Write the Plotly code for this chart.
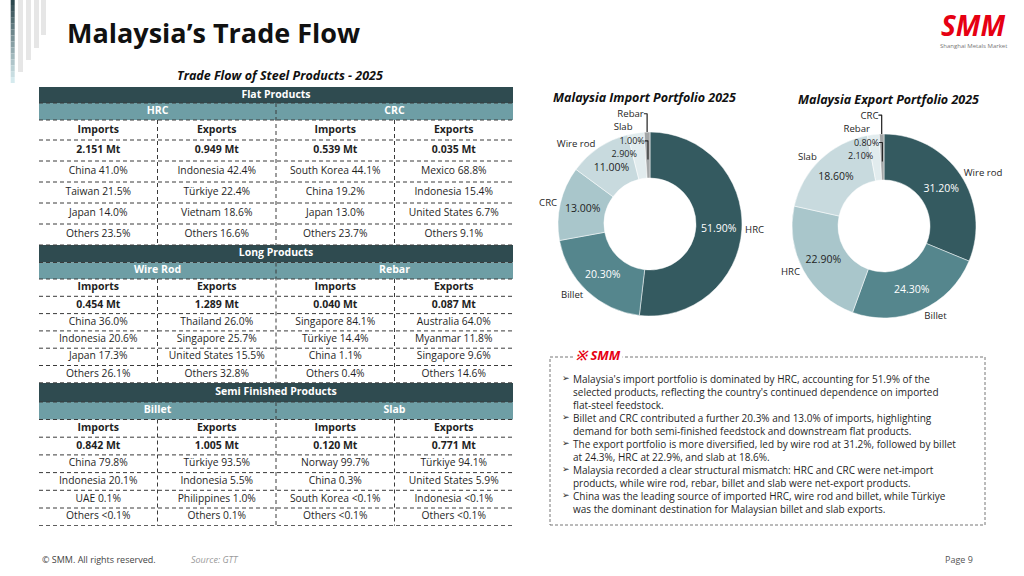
import plotly.graph_objects as go

# ---------------- data ----------------
page_title = "Malaysia’s Trade Flow"
table_title = "Trade Flow of Steel Products - 2025"
section_names = ["Flat Products", "Long Products", "Semi Finished Products"]
product_pairs = [["HRC", "CRC"], ["Wire Rod", "Rebar"], ["Billet", "Slab"]]
flow_headers = ["Imports", "Exports", "Imports", "Exports"]

flat_volumes = ["2.151 Mt", "0.949 Mt", "0.539 Mt", "0.035 Mt"]
flat_partners = [
    ["China 41.0%", "Indonesia 42.4%", "South Korea 44.1%", "Mexico 68.8%"],
    ["Taiwan 21.5%", "Türkiye 22.4%", "China 19.2%", "Indonesia 15.4%"],
    ["Japan 14.0%", "Vietnam 18.6%", "Japan 13.0%", "United States 6.7%"],
    ["Others 23.5%", "Others 16.6%", "Others 23.7%", "Others 9.1%"],
]
long_volumes = ["0.454 Mt", "1.289 Mt", "0.040 Mt", "0.087 Mt"]
long_partners = [
    ["China 36.0%", "Thailand 26.0%", "Singapore 84.1%", "Australia 64.0%"],
    ["Indonesia 20.6%", "Singapore 25.7%", "Türkiye 14.4%", "Myanmar 11.8%"],
    ["Japan 17.3%", "United States 15.5%", "China 1.1%", "Singapore 9.6%"],
    ["Others 26.1%", "Others 32.8%", "Others 0.4%", "Others 14.6%"],
]
semi_volumes = ["0.842 Mt", "1.005 Mt", "0.120 Mt", "0.771 Mt"]
semi_partners = [
    ["China 79.8%", "Türkiye 93.5%", "Norway 99.7%", "Türkiye 94.1%"],
    ["Indonesia 20.1%", "Indonesia 5.5%", "China 0.3%", "United States 5.9%"],
    ["UAE 0.1%", "Philippines 1.0%", "South Korea <0.1%", "Indonesia <0.1%"],
    ["Others <0.1%", "Others 0.1%", "Others <0.1%", "Others <0.1%"],
]

import_title = "Malaysia Import Portfolio 2025"
import_labels = ["HRC", "Billet", "CRC", "Wire rod", "Slab", "Rebar"]
import_shares = [51.9, 20.3, 13.0, 11.0, 2.9, 1.0]
export_title = "Malaysia Export Portfolio 2025"
export_labels = ["Wire rod", "Billet", "HRC", "Slab", "Rebar", "CRC"]
export_shares = [31.2, 24.3, 22.9, 18.6, 2.1, 0.8]

commentary = [
    "Malaysia's import portfolio is dominated by HRC, accounting for 51.9% of the<br>"
    "selected products, reflecting the country's continued dependence on imported<br>"
    "flat-steel feedstock.",
    "Billet and CRC contributed a further 20.3% and 13.0% of imports, highlighting<br>"
    "demand for both semi-finished feedstock and downstream flat products.",
    "The export portfolio is more diversified, led by wire rod at 31.2%, followed by billet<br>"
    "at 24.3%, HRC at 22.9%, and slab at 18.6%.",
    "Malaysia recorded a clear structural mismatch: HRC and CRC were net-import<br>"
    "products, while wire rod, rebar, billet and slab were net-export products.",
    "China was the leading source of imported HRC, wire rod and billet, while Türkiye<br>"
    "was the dominant destination for Malaysian billet and slab exports.",
]
footer_left = "© SMM. All rights reserved."
footer_source = "Source: GTT"
footer_page = "Page 9"

# ---------------- style / geometry ----------------
W, H = 1024, 576
FONT = "Open Sans"
DARK_BAND = "#2F4B50"
SUB_BAND = "#6E9EA5"
GRID = "#3a3a3a"
TXT = "#1f1f1f"
PALETTE = ["#345A60", "#55868D", "#A9C6CB", "#C8DADE", "#E2ECEE", "#A3A6A7"]
PCT_COLORS = ["white", "white", TXT, TXT, TXT, TXT]


def fx(x):
    return x / W


def fy(y):
    return 1 - y / H


section_tops = [87, 245, 383]
band_h = [16, 17.5, 19]
sub_h = [17, 16.5, 17.5]
row_h = [[20, 21, 21, 21, 21, 21], [17.3] * 6, [17.7] * 6]
TABLE_BOTTOM = 526

fig = go.Figure()
shapes = []
annots = []

# ---------- decorative bars (top-left) ----------
grad_steps = 14
for i in range(grad_steps):
    t = i / (grad_steps - 1)
    c0 = (0x2C, 0x48, 0x4E)
    c1 = (0xD5, 0xEA, 0xEE)
    col = "rgb(%d,%d,%d)" % tuple(int(c0[k] + (c1[k] - c0[k]) * t) for k in range(3))
    y0 = 83 * i / grad_steps
    y1 = 83 * (i + 1) / grad_steps
    shapes.append(dict(type="rect", xref="paper", yref="paper", x0=fx(10.7), x1=fx(14.7),
                       y0=fy(y1), y1=fy(y0), fillcolor=col, line=dict(width=0), layer="below"))
for (xa, xb, yb) in [(18, 23, 72), (26, 31, 60), (34, 39, 48), (41, 46, 35)]:
    shapes.append(dict(type="rect", xref="paper", yref="paper", x0=fx(xa), x1=fx(xb),
                       y0=fy(yb), y1=1, fillcolor="#E6E6E6", line=dict(width=0), layer="below"))

# ---------- table ----------
volumes = [flat_volumes, long_volumes, semi_volumes]
partners = [flat_partners, long_partners, semi_partners]
dash = dict(color=GRID, width=1, dash="4px,3px")

band_x, band_y, band_t = [], [], []
sub_x, sub_y, sub_t = [], [], []
hdr_x, hdr_y, hdr_t = [], [], []
cell_x, cell_y, cell_t = [], [], []

for s in range(3):
    top = section_tops[s]
    yb = top + band_h[s]
    ys = yb + sub_h[s]
    shapes.append(dict(type="rect", xref="x", yref="y", x0=0, x1=4, y0=top, y1=yb,
                       fillcolor=DARK_BAND, line=dict(width=0), layer="below"))
    shapes.append(dict(type="rect", xref="x", yref="y", x0=0, x1=4, y0=yb, y1=ys,
                       fillcolor=SUB_BAND, line=dict(width=0), layer="below"))
    band_x.append(2)
    band_y.append((top + yb) / 2)
    band_t.append(section_names[s])
    for k in range(2):
        sub_x.append(1 + 2 * k)
        sub_y.append((yb + ys) / 2)
        sub_t.append(product_pairs[s][k])
    shapes.append(dict(type="line", xref="x", yref="y", x0=0, x1=4, y0=yb, y1=yb, line=dash))
    shapes.append(dict(type="line", xref="x", yref="y", x0=0, x1=4, y0=ys, y1=ys, line=dash))
    rows = [flow_headers, volumes[s]] + partners[s]
    y = ys
    for r, row in enumerate(rows):
        h = row_h[s][r]
        yc = y + h / 2
        for c, txt in enumerate(row):
            if r < 2:
                hdr_x.append(c + 0.5); hdr_y.append(yc); hdr_t.append(txt)
            else:
                cell_x.append(c + 0.5); cell_y.append(yc); cell_t.append(txt.replace("<", "&lt;"))
        y += h
        shapes.append(dict(type="line", xref="x", yref="y", x0=0, x1=4, y0=y, y1=y, line=dash))
    end = y
    shapes.append(dict(type="line", xref="x", yref="y", x0=2, x1=2, y0=yb, y1=end, line=dash))
    for xv in (1, 3):
        shapes.append(dict(type="line", xref="x", yref="y", x0=xv, x1=xv, y0=ys, y1=end, line=dash))


def add_text(xs, ys, texts, size, color, weight="normal"):
    fig.add_trace(go.Scatter(
        x=xs, y=ys, text=texts, mode="text", textposition="middle center",
        textfont=dict(family=FONT, size=size, color=color, weight=weight),
        hoverinfo="skip", showlegend=False, cliponaxis=False, xaxis="x", yaxis="y"))


add_text(band_x, band_y, band_t, 10.5, "white", "bold")
add_text(sub_x, sub_y, sub_t, 10.5, "white", "bold")
add_text(hdr_x, hdr_y, hdr_t, 10.5, TXT, "bold")
add_text(cell_x, cell_y, cell_t, 10.3, TXT)

# ---------- donut charts ----------
R = 92
R_SMALL = 64.5


def dom(cx, cy, r):
    return dict(x=[fx(cx - r), fx(cx + r)], y=[fy(cy + r), fy(cy - r)])


def add_donut(labels, shares, cx, cy):
    pct = ["%.2f%%" % v for v in shares]
    big = [v >= 5 for v in shares]
    fig.add_trace(go.Pie(
        labels=labels, values=shares, sort=False, direction="clockwise", rotation=0,
        hole=0.5, domain=dom(cx, cy, R),
        marker=dict(colors=PALETTE, line=dict(width=0.5, color="white")),
        text=[p if b else "" for p, b in zip(pct, big)], texttemplate="%{text}",
        textposition="inside", insidetextorientation="horizontal",
        insidetextfont=dict(family=FONT, size=10.5, color=PCT_COLORS),
        hoverinfo="label+value", showlegend=False))
    fig.add_trace(go.Pie(
        labels=labels, values=shares, sort=False, direction="clockwise", rotation=0,
        hole=0.3, domain=dom(cx, cy, R_SMALL),
        marker=dict(colors=["rgba(0,0,0,0)"] * len(labels), line=dict(width=0)),
        text=["" if b else p for p, b in zip(pct, big)], texttemplate="%{text}",
        textposition="outside", outsidetextfont=dict(family=FONT, size=9, color=TXT),
        hoverinfo="skip", showlegend=False))
    fig.add_trace(go.Pie(
        labels=labels, values=shares, sort=False, direction="clockwise", rotation=0,
        hole=0.5, domain=dom(cx, cy, R),
        marker=dict(colors=["rgba(0,0,0,0)"] * len(labels), line=dict(width=0)),
        texttemplate="%{label}", textposition="outside",
        outsidetextfont=dict(family=FONT, size=9.6, color=TXT),
        hoverinfo="skip", showlegend=False))


add_donut(import_labels, import_shares, 650, 224)
add_donut(export_labels, export_shares, 884, 226)

# ---------- annotations ----------
def note(text, x, y, size, color=TXT, xanchor="left", yanchor="middle", **kw):
    a = dict(text=text, x=fx(x), y=fy(y), xref="paper", yref="paper", showarrow=False,
             xanchor=xanchor, yanchor=yanchor,
             font=dict(family=kw.pop("family", FONT), size=size, color=color,
                       weight=kw.pop("weight", "normal"), style=kw.pop("style", "normal")))
    a.update(kw)
    annots.append(a)


note(page_title, 65, 32, 27, "#111111", weight="bold")
note(table_title, 280, 75, 12.5, "#111111", xanchor="center", weight="bold", style="italic")
note(import_title, 644, 98, 12.5, "#111111", xanchor="center", weight="bold", style="italic")
note(export_title, 888, 99, 12.5, "#111111", xanchor="center", weight="bold", style="italic")

# SMM logo top-right
note("SMM", 973, 25, 28, "#E60012", xanchor="center", weight="bold", style="italic")
note("Shanghai Metals Market", 973, 46, 6, "#777777", xanchor="center")

# commentary box
shapes.append(dict(type="rect", xref="paper", yref="paper", x0=fx(550), x1=fx(985),
                   y0=fy(525), y1=fy(357), line=dict(color="#777777", width=1, dash="3px,2px")))
note("※ SMM", 574, 355, 13, "#E60012", weight="bold", style="italic", bgcolor="white")

BODY_SIZE = 10
LINE_H = BODY_SIZE * 1.3
first_center = 377
line_idx = 0
for para in commentary:
    n_lines = para.count("<br>") + 1
    note("➢", 560, first_center + line_idx * LINE_H, 9, TXT)
    note(para, 572, first_center + line_idx * LINE_H - LINE_H / 2, BODY_SIZE, TXT,
         yanchor="top", align="left", borderpad=0)
    line_idx += n_lines

# footer
note(footer_left, 40, 559, 9, "#444444")
note(footer_source, 189, 559, 9, "#9a9a9a", style="italic")
note(footer_page, 975, 559, 9, "#555555", xanchor="right")

fig.update_layout(
    width=W, height=H, margin=dict(l=0, r=0, t=0, b=0),
    paper_bgcolor="white", plot_bgcolor="rgba(0,0,0,0)",
    xaxis=dict(domain=[fx(39), fx(513)], range=[0, 4], visible=False, fixedrange=True),
    yaxis=dict(domain=[fy(TABLE_BOTTOM), fy(87)], range=[TABLE_BOTTOM, 87], visible=False,
               fixedrange=True),
    showlegend=False, shapes=shapes, annotations=annots,
)

fig.write_html(
    "out.html",
    config={"displayModeBar": False},
    post_script="document.body.style.margin='0px';document.body.style.padding='0px';"
                "document.body.style.overflow='hidden';",
)
